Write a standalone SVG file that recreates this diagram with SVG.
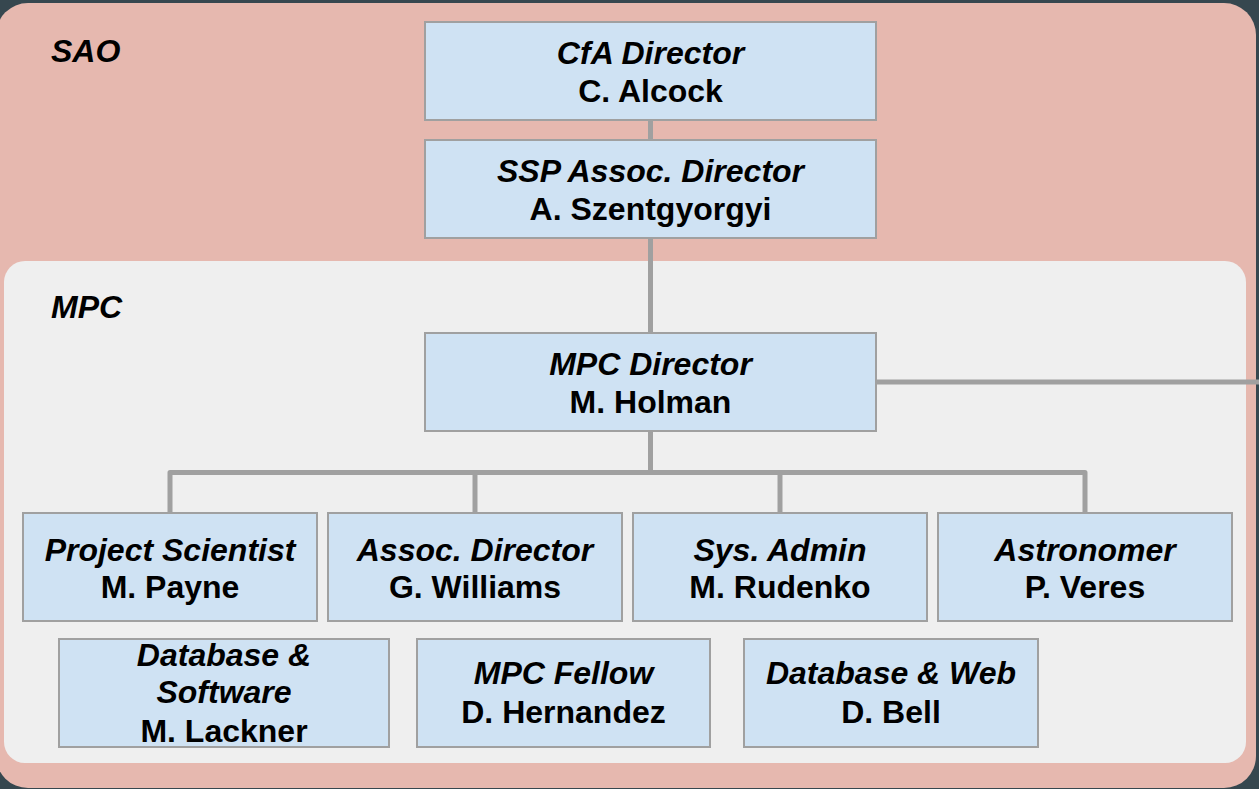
<svg xmlns="http://www.w3.org/2000/svg" width="1259" height="789" viewBox="0 0 1259 789">
<style>
.box{fill:#cfe2f3;stroke:#a0a0a0;stroke-width:2}
.t{font-family:"Liberation Sans",Arial,sans-serif;font-size:32px;font-weight:bold;fill:#000;text-anchor:middle}
.i{font-style:italic}
.lbl{font-family:"Liberation Sans",Arial,sans-serif;font-size:32px;font-weight:bold;font-style:italic;fill:#000}
.ln{fill:none;stroke:#a0a0a0;stroke-width:5;stroke-linejoin:round}
</style>
<rect x="0" y="0" width="1259" height="789" fill="#36474f"/>
<g id="sao">
<rect x="-4" y="3" width="1260" height="785" rx="32" fill="#e6b8af"/>
<text class="lbl" x="51" y="62">SAO</text>
</g>
<g id="mpc">
<rect x="4" y="261" width="1242" height="502" rx="21" fill="#efefef"/>
<text class="lbl" x="51" y="318">MPC</text>
</g>
<g id="connectors">
<line class="ln" x1="650.5" y1="120" x2="650.5" y2="140"/>
<line class="ln" x1="650.5" y1="238" x2="650.5" y2="333"/>
<line class="ln" x1="876" y1="382" x2="1259" y2="382"/>
<line class="ln" x1="650.5" y1="431" x2="650.5" y2="472.5"/>
<path class="ln" d="M170 513 V472.5 H1085 V513"/>
<line class="ln" x1="475" y1="472.5" x2="475" y2="513"/>
<line class="ln" x1="780" y1="472.5" x2="780" y2="513"/>
</g>
<g id="cfa">
<rect class="box" x="425" y="22" width="451" height="98"/>
<text class="t i" x="650.5" y="64">CfA Director</text>
<text class="t" x="650.5" y="102">C. Alcock</text>
</g>
<g id="ssp">
<rect class="box" x="425" y="140" width="451" height="98"/>
<text class="t i" x="650.5" y="182">SSP Assoc. Director</text>
<text class="t" x="650.5" y="220">A. Szentgyorgyi</text>
</g>
<g id="mpcdir">
<rect class="box" x="425" y="333" width="451" height="98"/>
<text class="t i" x="650.5" y="375">MPC Director</text>
<text class="t" x="650.5" y="413">M. Holman</text>
</g>
<g id="ps">
<rect class="box" x="23" y="513" width="294" height="108"/>
<text class="t i" x="170" y="561">Project Scientist</text>
<text class="t" x="170" y="598">M. Payne</text>
</g>
<g id="ad">
<rect class="box" x="328" y="513" width="294" height="108"/>
<text class="t i" x="475" y="561">Assoc. Director</text>
<text class="t" x="475" y="598">G. Williams</text>
</g>
<g id="sa">
<rect class="box" x="633" y="513" width="294" height="108"/>
<text class="t i" x="780" y="561">Sys. Admin</text>
<text class="t" x="780" y="598">M. Rudenko</text>
</g>
<g id="astro">
<rect class="box" x="938" y="513" width="294" height="108"/>
<text class="t i" x="1085" y="561">Astronomer</text>
<text class="t" x="1085" y="598">P. Veres</text>
</g>
<g id="dbsw">
<rect class="box" x="59" y="639" width="330" height="108"/>
<text class="t i" x="224" y="666">Database &amp;</text>
<text class="t i" x="224" y="703">Software</text>
<text class="t" x="224" y="742">M. Lackner</text>
</g>
<g id="fellow">
<rect class="box" x="417" y="639" width="293" height="108"/>
<text class="t i" x="563.5" y="684">MPC Fellow</text>
<text class="t" x="563.5" y="723">D. Hernandez</text>
</g>
<g id="dbweb">
<rect class="box" x="744" y="639" width="294" height="108"/>
<text class="t i" x="891" y="684">Database &amp; Web</text>
<text class="t" x="891" y="723">D. Bell</text>
</g>
</svg>
